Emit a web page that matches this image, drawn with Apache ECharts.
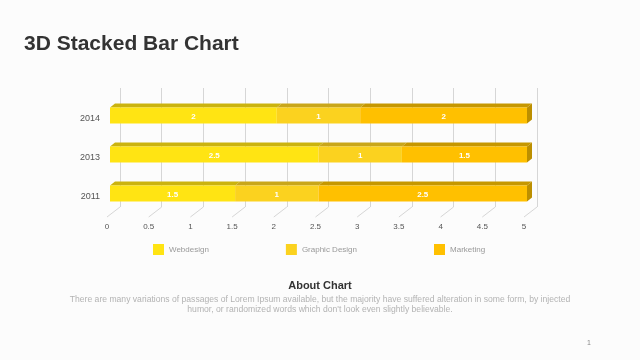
<!DOCTYPE html>
<html><head><meta charset="utf-8">
<script src="https://cdn.jsdelivr.net/npm/echarts@6/dist/echarts.min.js"></script>
<style>html,body{margin:0;padding:0;background:#fcfcfc;}#c{width:640px;height:360px;}</style>
</head><body><div id="c"></div>
<script>
const years = ['2011', '2013', '2014'];
const seriesNames = ['Webdesign', 'Graphic Design', 'Marketing'];
const webdesign = [1.5, 2.5, 2];
const graphicDesign = [1, 1, 1];
const marketing = [2.5, 1.5, 2];
const xTicks = [0, 0.5, 1, 1.5, 2, 2.5, 3, 3.5, 4, 4.5, 5];
const xTickLabels = ['0', '0.5', '1', '1.5', '2', '2.5', '3', '3.5', '4', '4.5', '5'];

const values = [webdesign, graphicDesign, marketing];
const frontColors = ['#FFE413', '#FBD21F', '#FFC000'];
const topColors = ['#CBB30E', '#C9A61A', '#C69700'];
const sideColor = '#BC8F00';
const FONT = '"Liberation Sans", Arial, sans-serif';
const DX = 5, DY = 4, H = 16;

const chart = echarts.init(document.getElementById('c'));

const barSeries = values.map((vals, si) => {
  const data = vals.map((v, j) => {
    let start = 0;
    for (let k = 0; k < si; k++) start += values[k][j];
    return [start, start + v, j, v];
  });
  return {
    type: 'custom',
    name: seriesNames[si],
    xAxisIndex: 1, yAxisIndex: 1,
    clip: false,
    zlevel: 1,
    itemStyle: { color: frontColors[si] },
    encode: { x: [0, 1], y: 2 },
    data: data,
    z: 5 + si,
    renderItem: function (params, api) {
      const s = api.coord([api.value(0), api.value(2)]);
      const e = api.coord([api.value(1), api.value(2)]);
      const yTop = s[1] - H / 2;
      const children = [
        { type: 'polygon', shape: { points: [[s[0], yTop], [e[0], yTop], [e[0] + DX, yTop - DY], [s[0] + DX, yTop - DY]] }, style: { fill: topColors[si] } },
        { type: 'rect', shape: { x: s[0], y: yTop, width: e[0] - s[0], height: H }, style: { fill: frontColors[si] } }
      ];
      if (si === values.length - 1) {
        children.push({ type: 'polygon', shape: { points: [[e[0], yTop], [e[0] + DX, yTop - DY], [e[0] + DX, yTop + H - DY], [e[0], yTop + H]] }, style: { fill: sideColor } });
      }
      children.push({ type: 'text', style: { x: (s[0] + e[0]) / 2, y: s[1] + 1, text: String(api.value(3)), align: 'center', verticalAlign: 'middle', fill: '#fff', font: 'bold 8px ' + FONT } });
      return { type: 'group', children: children };
    }
  };
});

const option = {
  backgroundColor: '#fcfcfc',
  animation: false,
  grid: [
    { left: 120, right: 103, top: 88, bottom: 153 },
    { left: 110, right: 113, top: 96, bottom: 147 }
  ],
  xAxis: [
    { gridIndex: 0, type: 'value', min: 0, max: 5, interval: 0.5, z: 0,
      axisLine: { show: false }, axisTick: { show: false }, axisLabel: { show: false },
      splitLine: { show: true, lineStyle: { color: '#d6d6d6', width: 1 } } },
    { gridIndex: 1, type: 'value', min: 0, max: 5, interval: 0.5,
      axisLine: { show: false }, axisTick: { show: false }, splitLine: { show: false },
      axisLabel: { color: '#555', fontSize: 8, fontFamily: FONT, margin: 10, padding: [0, 6, 0, 0],
        formatter: v => xTickLabels[Math.round(v * 2)] } }
  ],
  yAxis: [
    { gridIndex: 0, type: 'value', min: 0, max: 1, show: false },
    { gridIndex: 1, type: 'category', data: years,
      axisLine: { show: false }, axisTick: { show: false }, splitLine: { show: false },
      axisLabel: { color: '#555', fontSize: 9, fontFamily: FONT, margin: 10,
        formatter: '{a|{value}}',
        rich: { a: { color: '#555', fontSize: 9, fontFamily: FONT, padding: [6, 0, 0, 0] } } } }
  ],
  legend: {
    left: 148, top: 239, itemWidth: 11, itemHeight: 11, itemGap: 77, itemTextGap: 7,
    icon: 'rect', data: seriesNames,
    textStyle: { color: '#999', fontSize: 8, fontFamily: FONT }
  },
  graphic: [
    { type: 'text', left: 24, top: 34, style: { text: '3D Stacked Bar Chart', font: 'bold 21px ' + FONT, fill: '#333' } },
    { type: 'text', x: 320, y: 286, style: { text: 'About Chart', font: 'bold 11px ' + FONT, fill: '#333', align: 'center', verticalAlign: 'middle' } },
    { type: 'text', x: 320, y: 299.5, style: { text: 'There are many variations of passages of Lorem Ipsum available, but the majority have suffered alteration in some form, by injected', font: '8.6px ' + FONT, fill: '#b3b3b3', align: 'center', verticalAlign: 'middle' } },
    { type: 'text', x: 320, y: 309.5, style: { text: "humor, or randomized words which don't look even slightly believable.", font: '8.6px ' + FONT, fill: '#b3b3b3', align: 'center', verticalAlign: 'middle' } },
    { type: 'text', x: 589, y: 343, style: { text: '1', font: '7px ' + FONT, fill: '#888', align: 'center', verticalAlign: 'middle' } }
  ],
  series: [
    {
      type: 'custom', name: 'floor', xAxisIndex: 0, yAxisIndex: 0, clip: false, silent: true,
      data: xTicks.map(v => [v, 0]),
      z: 1,
      renderItem: function (params, api) {
        const p = api.coord([api.value(0), 0]);
        return { type: 'line', shape: { x1: p[0], y1: p[1], x2: p[0] - 13, y2: p[1] + 10 }, style: { stroke: '#d6d6d6', lineWidth: 1 } };
      }
    }
  ].concat(barSeries)
};
chart.setOption(option);
</script></body></html>
